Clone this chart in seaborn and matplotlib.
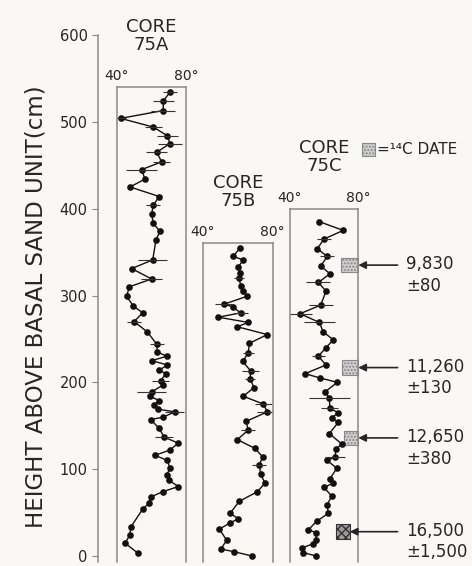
import numpy as np
import pandas as pd
import matplotlib
matplotlib.use("Agg")
import matplotlib.pyplot as plt
from matplotlib.patches import Rectangle
import seaborn as sns

# Core 75A: height above basal sand unit (cm), inclination (deg), error (deg)
a_height = [534, 524, 513, 504, 494, 484, 475, 465, 454, 445,
            434, 425, 414, 404, 394, 383, 374, 364, 341, 331,
            319, 310, 299, 288, 280, 270, 258, 244, 235, 230,
            225, 220, 214, 210, 202, 197, 189, 184, 179, 174,
            169, 166, 160, 157, 147, 137, 130, 122, 116, 110,
            101, 93, 87, 80, 74, 68, 61, 54, 33, 24,
            15, 3]
a_incl = [70.7, 66.8, 66.8, 42.1, 61.0, 69.2, 70.7, 63.0, 65.9, 54.3,
          56.2, 47.5, 64.5, 61.0, 60.1, 61.0, 64.9, 62.6, 60.7, 48.5,
          60.1, 47.1, 45.6, 49.4, 54.9, 49.9, 57.6, 63.0, 63.4, 68.8,
          60.1, 69.2, 64.5, 68.4, 65.3, 66.8, 60.1, 59.1, 64.5, 61.4,
          63.9, 73.6, 66.8, 59.5, 64.5, 67.2, 75.5, 70.7, 62.0, 69.2,
          70.7, 68.8, 70.3, 75.5, 66.5, 59.5, 58.7, 54.9, 47.9, 47.5,
          44.6, 52.3]
a_err = [4, 6, 7, 3, 5, 6, 7, 6, 5, 9,
         0, 0, 0, 4, 0, 0, 0, 0, 8.5, 0,
         6, 0, 0, 0, 0, 4, 0, 4, 0, 0,
         0, 0, 0, 0, 5, 0, 8.5, 0, 0, 0,
         0, 5.5, 0, 0, 0, 5, 0, 0, 0, 0,
         0, 0, 0, 0, 0, 0, 0, 0, 0, 0,
         0, 0]

# Core 75B
b_height = [355, 345, 341, 333, 326, 320, 311, 305, 299, 290,
            287, 280, 275, 269, 264, 255, 245, 234, 224, 213,
            204, 194, 184, 175, 166, 155, 145, 134, 124, 114,
            105, 94, 84, 74, 63, 49, 43, 38, 31, 18,
            8, 5, 0]
b_incl = [61.2, 57.4, 63.1, 60.3, 61.2, 60.8, 61.6, 62.8, 65.1, 52.1,
          57.0, 61.6, 48.8, 66.0, 59.7, 76.9, 66.6, 66.0, 62.8, 67.4,
          67.0, 69.3, 63.1, 74.6, 76.9, 64.7, 66.0, 59.7, 69.8, 74.3,
          72.3, 73.1, 75.6, 71.2, 60.8, 55.5, 60.3, 55.5, 49.4, 53.6,
          50.2, 57.8, 68.0]
b_err = [0, 0, 0, 0, 0, 3, 0, 0, 0, 5,
         0, 4, 0, 0, 0, 0, 0, 3, 0, 5,
         3, 0, 0, 5, 6, 0, 4, 0, 0, 0,
         4, 0, 0, 0, 0, 0, 0, 0, 0, 0,
         0, 0, 0]

# Core 75C
c_height = [385, 375, 365, 354, 345, 334, 325, 315, 305, 289,
            279, 269, 258, 249, 240, 230, 220, 210, 205, 200,
            189, 182, 170, 165, 159, 154, 141, 129, 123, 114,
            110, 101, 89, 84, 79, 69, 59, 49, 40, 30,
            27, 18, 14, 9, 4, 0]
c_incl = [57.2, 71.2, 59.9, 56.0, 61.8, 58.0, 63.4, 56.6, 61.1, 58.0,
          45.9, 57.2, 59.5, 65.4, 61.1, 56.6, 61.1, 48.8, 57.6, 67.7,
          60.5, 63.0, 63.4, 68.3, 64.4, 68.3, 63.0, 70.3, 66.9, 66.4,
          61.8, 67.4, 63.4, 65.4, 59.9, 64.4, 61.8, 62.4, 55.6, 50.7,
          55.2, 55.2, 53.3, 46.9, 47.8, 55.2]
c_err = [0, 0, 4, 0, 4, 0, 0, 7, 0, 7,
         7, 9, 0, 0, 0, 4, 0, 0, 0, 0,
         0, 12, 5, 0, 0, 0, 0, 0, 0, 6,
         0, 0, 0, 0, 0, 0, 0, 0, 0, 0,
         0, 0, 0, 0, 0, 0]

# 14C dates (cm) next to core 75C
date_height = [335, 217, 136, 28]
date_label = ["9,830\n±80", "11,260\n±130", "12,650\n±380", "16,500\n±1,500"]

core_names = ["CORE\n75A", "CORE\n75B", "CORE\n75C"]
core_tops = [540, 360, 400]

sns.set_theme(style="white")
plt.rcParams['font.family'] = ['DejaVu Sans']

W, H = 472, 566
PX_CM = 521 / 600   # pixels per cm on the height axis
Y0 = 556            # pixel row of height 0
YLO = -7
INK = '#262626'
FRAME = '#8a8a8a'
BG = '#f9f8f4'


def rect(left_px, right_px, ylo, yhi):
    bottom = H - (Y0 - ylo * PX_CM)
    return [left_px / W, bottom / H, (right_px - left_px) / W, (yhi - ylo) * PX_CM / H]


fig = plt.figure(figsize=(W / 100, H / 100), dpi=100, facecolor=BG)

# shared height scale
ax0 = fig.add_axes(rect(98, 470, YLO, 600))
ax0.set_facecolor('none')
ax0.set_ylim(YLO, 600)
ax0.set_xlim(0, 1)
ax0.set_xticks([])
ax0.set_yticks(range(0, 601, 100))
for s in ['top', 'right', 'bottom']:
    ax0.spines[s].set_visible(False)
ax0.spines['left'].set_color(FRAME)
ax0.spines['left'].set_linewidth(1.1)
ax0.tick_params(axis='y', direction='out', length=4, width=0.8, color=FRAME,
                labelsize=10.5, labelcolor=INK, pad=3.5, left=True)
fig.text(36 / W, 1 - 307 / H, "HEIGHT ABOVE BASAL SAND UNIT(cm)", rotation=90,
         ha='center', va='center', fontsize=16.5, color=INK)

boxes = [(117, 186), (203, 272.7), (290, 358.3)]
cores = [(a_height, a_incl, a_err), (b_height, b_incl, b_err), (c_height, c_incl, c_err)]
axes = []
for (l, r), (h, inc, err), top, name in zip(boxes, cores, core_tops, core_names):
    ax = fig.add_axes(rect(l, r, YLO, top))
    df = pd.DataFrame({'height': h, 'incl': inc})
    sns.lineplot(data=df, x='incl', y='height', orient='y', sort=False, estimator=None,
                 ax=ax, color='#111111', lw=1.0, marker='o', markersize=4.8,
                 markeredgewidth=0)
    e = np.array(err, dtype=float)
    m = e > 0
    ax.errorbar(np.array(inc)[m], np.array(h)[m], xerr=e[m], fmt='none',
                ecolor='#333333', elinewidth=0.8, capsize=0)
    ax.set_xlim(40, 80)
    ax.set_ylim(YLO, top)
    ax.set_facecolor('none')
    ax.set_xlabel('')
    ax.set_ylabel('')
    ax.set_yticks([])
    ax.xaxis.tick_top()
    ax.set_xticks([40, 80])
    ax.set_xticklabels(['40°', '80°'])
    ax.tick_params(axis='x', length=0, pad=3, labelsize=10, labelcolor=INK)
    ax.spines['bottom'].set_visible(False)
    for s in ['left', 'right', 'top']:
        ax.spines[s].set_color(FRAME)
        ax.spines[s].set_linewidth(1.1)
    ax.annotate(name, xy=(0.5, 1), xycoords='axes fraction', xytext=(0, 24),
                textcoords='offset points', ha='center', va='bottom',
                fontsize=13, color=INK, linespacing=1.0)
    axes.append(ax)

# 14C date markers on core 75C
axc = axes[2]
sq_x = [(70, 80), (70.3, 80), (71.6, 80), (67, 75)]
for (x0, x1), hgt, lbl, i in zip(sq_x, date_height, date_label, range(4)):
    dark = i == 3
    axc.add_patch(Rectangle((x0, hgt - 8.5), x1 - x0, 17,
                            facecolor='#9a9a9a' if dark else '#cfcfcf',
                            edgecolor='#333333' if dark else '#888888',
                            hatch='xxxx' if dark else '.....', lw=0.8, clip_on=False))
    axc.annotate('', xy=(x1, hgt), xytext=(103, hgt),
                 arrowprops=dict(arrowstyle='-|>', color=INK, lw=1.2,
                                 mutation_scale=11, shrinkA=0, shrinkB=0),
                 annotation_clip=False)
    axc.annotate(lbl, xy=(108, hgt), xytext=(0, 7), textcoords='offset points',
                 ha='left', va='top', fontsize=12, color=INK, linespacing=1.25,
                 annotation_clip=False)

# legend for 14C date
fig.add_artist(Rectangle((362 / W, 1 - 156 / H), 13 / W, 13 / H, transform=fig.transFigure,
                         facecolor='#cfcfcf', edgecolor='#888888', hatch='.....', lw=0.8))
fig.text(377 / W, 1 - 150 / H, "=¹⁴C DATE", ha='left', va='center', fontsize=11, color=INK)

fig.savefig("out.png", dpi=100, facecolor=BG)
